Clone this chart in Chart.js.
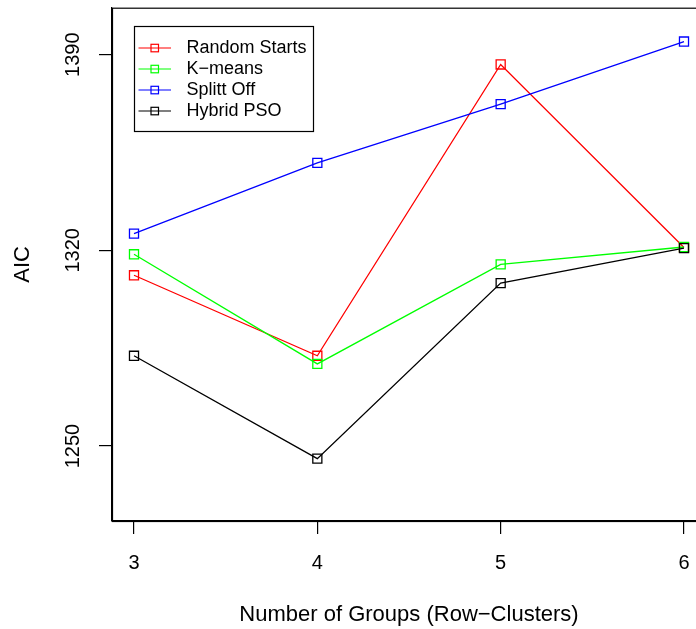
<!DOCTYPE html>
<html>
<head>
<meta charset="utf-8">
<script src="https://cdn.jsdelivr.net/npm/chart.js@4/dist/chart.umd.min.js"></script>
<style>
  html, body { margin: 0; padding: 0; background: #fff; overflow: hidden; }
  #wrap { width: 720px; height: 629px; }
</style>
</head>
<body>
<div id="wrap"><canvas id="c" width="720" height="629"></canvas></div>
<script>
// ---- data ----
const groups = [3, 4, 5, 6];
const seriesNames = ["Random Starts", "K\u2212means", "Splitt Off", "Hybrid PSO"];
const randomStarts = [1311.1, 1282.3, 1386.5, 1321.0];
const kMeans       = [1318.6, 1279.4, 1315.0, 1321.2];
const splittOff    = [1326.0, 1351.3, 1372.3, 1394.7];
const hybridPSO    = [1282.3, 1245.5, 1308.3, 1320.8];
const xTicks = [3, 4, 5, 6];
const yTicks = [1250, 1320, 1390];
const xTitle = "Number of Groups (Row\u2212Clusters)";
const yTitle = "AIC";

const colors = ["#FF0000", "#00FF00", "#0000FF", "#000000"];
const FONT = "'Liberation Sans', Arial, Helvetica, sans-serif";

function pts(vals) { return groups.map((g, i) => ({ x: g, y: vals[i] })); }
const allSeries = [randomStarts, kMeans, splittOff, hybridPSO];

const datasets = allSeries.map((vals, i) => ({
  label: seriesNames[i],
  data: pts(vals),
  order: allSeries.length - 1 - i,
  borderColor: colors[i],
  backgroundColor: 'rgba(0,0,0,0)',
  borderWidth: 1.3,
  pointStyle: 'rect',
  pointRadius: 6.4,
  pointBorderWidth: 1.3,
  pointBorderColor: colors[i],
  pointBackgroundColor: 'rgba(0,0,0,0)',
  tension: 0,
  fill: false
}));

const rPlot = {
  id: 'rPlot',
  afterDraw(chart) {
    const ctx = chart.ctx;
    const a = chart.chartArea;
    ctx.save();
    // box
    ctx.strokeStyle = '#000';
    ctx.lineWidth = 1.2;
    ctx.strokeRect(a.left + 0.5, a.top + 0.5, a.right - a.left, a.bottom - a.top);
    // y tick labels (rotated, R style)
    const ys = chart.scales.y;
    ctx.fillStyle = '#000';
    ctx.font = '20px ' + FONT;
    ctx.textAlign = 'center';
    ctx.textBaseline = 'middle';
    yTicks.forEach(v => {
      const py = ys.getPixelForValue(v);
      ctx.save();
      ctx.translate(73, py);
      ctx.rotate(-Math.PI / 2);
      ctx.fillText(String(v), 0, 0);
      ctx.restore();
    });
    // legend
    const lx = 134.5, ly = 26.5, lw = 179, lh = 105;
    ctx.fillStyle = '#fff';
    ctx.fillRect(lx, ly, lw, lh);
    ctx.strokeStyle = '#000';
    ctx.lineWidth = 1.2;
    ctx.strokeRect(lx, ly, lw, lh);
    ctx.font = '18px ' + FONT;
    ctx.textAlign = 'left';
    ctx.textBaseline = 'middle';
    chart.data.datasets.forEach((ds, i) => {
      const y = 48 + i * 21;
      ctx.strokeStyle = ds.borderColor;
      ctx.lineWidth = 1.2;
      ctx.beginPath();
      ctx.moveTo(138.5, y);
      ctx.lineTo(171, y);
      ctx.stroke();
      ctx.strokeRect(151, y - 3.7, 7.5, 7.5);
      ctx.fillStyle = '#000';
      ctx.fillText(ds.label, 186.5, y + 0.5);
    });
    ctx.restore();
  }
};

new Chart(document.getElementById('c'), {
  type: 'line',
  data: { datasets },
  options: {
    responsive: false,
    animation: false,
    devicePixelRatio: 1,
    layout: { padding: { left: 0, top: 7, right: 14, bottom: 0 } },
    plugins: { legend: { display: false }, tooltip: { enabled: false } },
    scales: {
      x: {
        type: 'linear',
        min: 2.88,
        max: 6.12,
        afterBuildTicks: s => { s.ticks = xTicks.map(v => ({ value: v })); },
        afterFit: s => { s.height = 108; },
        grid: { display: true, drawOnChartArea: false, drawTicks: true, tickLength: 13, color: '#000', lineWidth: 1.2 },
        border: { display: true, color: '#000', width: 1.2 },
        ticks: { color: '#000', font: { family: FONT, size: 20 }, padding: 17, maxRotation: 0, minRotation: 0,
                 callback: v => String(v) },
        title: { display: true, text: xTitle, color: '#000', font: { family: FONT, size: 22 }, padding: { top: 0, bottom: 1 } }
      },
      y: {
        type: 'linear',
        min: 1223.2,
        max: 1406.8,
        afterBuildTicks: s => { s.ticks = yTicks.map(v => ({ value: v })); },
        afterFit: s => { s.width = 112; },
        grid: { display: true, drawOnChartArea: false, drawTicks: true, tickLength: 13, color: '#000', lineWidth: 1.2 },
        border: { display: true, color: '#000', width: 1.2 },
        ticks: { display: false },
        title: { display: true, text: yTitle, color: '#000', font: { family: FONT, size: 22 }, padding: { top: 10, bottom: 0 } }
      }
    }
  },
  plugins: [rPlot]
});
</script>
</body>
</html>
